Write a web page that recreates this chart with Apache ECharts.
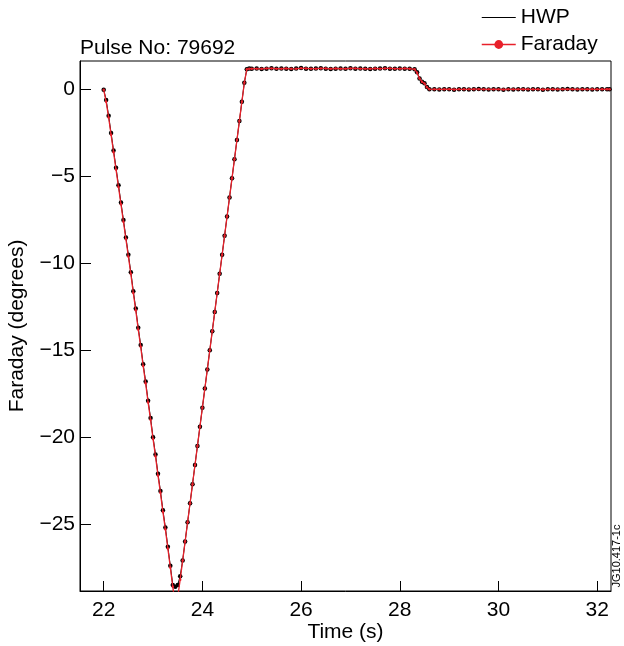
<!DOCTYPE html>
<html>
<head>
<meta charset="utf-8">
<script src="https://cdn.jsdelivr.net/npm/echarts@6/dist/echarts.min.js"></script>
<style>
html,body{margin:0;padding:0;background:#fff;}
#chart{width:624px;height:646px;}
</style>
</head>
<body>
<div id="chart"></div>
<script>
// Shared time samples (s)
var time = [
  22.00,22.05,22.10,22.15,22.20,22.25,22.30,22.35,22.40,22.45,
  22.50,22.55,22.60,22.65,22.70,22.75,22.80,22.85,22.90,22.95,
  23.00,23.05,23.10,23.15,23.20,23.25,23.30,23.35,23.40,23.45,
  23.50,23.55,23.60,23.65,23.70,23.75,23.80,23.85,23.90,23.95,
  24.00,24.05,24.10,24.15,24.20,24.25,24.30,24.35,24.40,24.45,
  24.50,24.55,24.60,24.65,24.70,24.75,24.80,24.85,24.90,24.95,
  25.00,
  25.1,25.2,25.3,25.4,25.5,25.6,25.7,25.8,25.9,26.0,
  26.1,26.2,26.3,26.4,26.5,26.6,26.7,26.8,26.9,27.0,
  27.1,27.2,27.3,27.4,27.5,27.6,27.7,27.8,27.9,28.0,
  28.1,28.2,28.3,
  28.35,28.40,28.45,28.50,28.55,28.60,
  28.7,28.8,28.9,29.0,29.1,29.2,29.3,29.4,29.5,29.6,
  29.7,29.8,29.9,30.0,30.1,30.2,30.3,30.4,30.5,30.6,
  30.7,30.8,30.9,31.0,31.1,31.2,31.3,31.4,31.5,31.6,
  31.7,31.8,31.9,32.0,32.1,32.2,32.25
];
// HWP (degrees)
var hwp = [
  0.0,-0.6,-1.5,-2.5,-3.5,-4.5,-5.5,-6.5,-7.5,-8.5,
  -9.5,-10.5,-11.6,-12.6,-13.7,-14.7,-15.8,-16.8,-17.9,-18.9,
  -20.0,-21.0,-22.1,-23.1,-24.2,-25.2,-26.3,-27.4,-28.5,-28.6,
  -28.5,-28.0,-27.1,-26.0,-24.9,-23.8,-22.7,-21.6,-20.5,-19.4,
  -18.3,-17.2,-16.1,-15.0,-13.9,-12.8,-11.7,-10.6,-9.5,-8.4,
  -7.3,-6.2,-5.1,-4.0,-2.9,-1.8,-0.7,0.4,1.18,1.22,
  1.20,
  1.22,1.19,1.21,1.23,1.20,1.22,1.21,1.19,1.22,1.24,
  1.21,1.20,1.22,1.23,1.21,1.19,1.21,1.22,1.20,1.23,
  1.21,1.22,1.20,1.19,1.21,1.22,1.23,1.21,1.20,1.22,
  1.21,1.20,1.18,
  1.00,0.65,0.45,0.37,0.15,0.03,
  0.02,0.01,0.03,0.02,0.00,0.02,0.03,0.01,0.02,0.04,
  0.02,0.01,0.03,0.02,0.00,0.02,0.01,0.03,0.02,0.01,
  0.03,0.02,0.00,0.02,0.03,0.01,0.02,0.04,0.02,0.01,
  0.03,0.02,0.01,0.03,0.02,0.03,0.02
];
// Faraday (degrees)
var faraday = [
  0.0,-0.7,-1.6,-2.6,-3.6,-4.6,-5.6,-6.6,-7.6,-8.6,
  -9.6,-10.6,-11.7,-12.7,-13.8,-14.8,-15.9,-16.9,-18.0,-19.0,
  -20.1,-21.1,-22.2,-23.2,-24.3,-25.3,-26.4,-27.5,-28.6,-29.7,
  -29.2,-28.2,-27.1,-26.0,-24.9,-23.8,-22.7,-21.6,-20.5,-19.4,
  -18.3,-17.2,-16.1,-15.0,-13.9,-12.8,-11.7,-10.6,-9.5,-8.4,
  -7.3,-6.2,-5.1,-4.0,-2.9,-1.8,-0.7,0.4,1.17,1.21,
  1.21,
  1.21,1.20,1.22,1.22,1.21,1.21,1.22,1.20,1.21,1.23,
  1.22,1.21,1.21,1.22,1.22,1.20,1.22,1.21,1.21,1.22,
  1.22,1.21,1.21,1.20,1.22,1.21,1.22,1.22,1.21,1.21,
  1.22,1.21,1.17,
  0.98,0.64,0.46,0.36,0.14,0.03,
  0.02,0.02,0.02,0.03,0.01,0.02,0.02,0.02,0.03,0.03,
  0.02,0.02,0.02,0.02,0.01,0.02,0.02,0.02,0.03,0.02,
  0.02,0.02,0.01,0.02,0.02,0.02,0.02,0.03,0.02,0.02,
  0.02,0.02,0.02,0.02,0.02,0.03,0.02
];
var xTicks = [22, 24, 26, 28, 30, 32];
var yTicks = [0, -5, -10, -15, -20, -25];

function pairs(t, v) { return t.map(function (x, i) { return [x, v[i]]; }); }

var FONT = '"Liberation Sans", Arial, Helvetica, sans-serif';
var chart = echarts.init(document.getElementById('chart'), null, {renderer: 'canvas'});
chart.setOption({
  animation: false,
  backgroundColor: '#fff',
  textStyle: {fontFamily: FONT, color: '#000'},
  title: {
    text: 'Pulse No: 79692',
    left: 75, top: 33,
    textStyle: {fontFamily: FONT, fontSize: 21, fontWeight: 'normal', color: '#000'}
  },
  legend: {
    orient: 'vertical',
    left: 476, top: 2,
    itemWidth: 34, itemHeight: 11, itemGap: 6,
    textStyle: {fontFamily: FONT, fontSize: 21, color: '#000'},
    data: [
      {name: 'HWP', itemStyle: {opacity: 0}, lineStyle: {width: 1}},
      {name: 'Faraday', lineStyle: {width: 1.5}}
    ]
  },
  grid: {
    left: 80, right: 13, top: 61, bottom: 55,
    outerBoundsMode: 'none',
    containLabel: false,
    show: true, borderColor: '#000', borderWidth: 1
  },
  xAxis: {
    type: 'value',
    min: 21.52, max: 32.28,
    name: 'Time (s)', nameLocation: 'middle', nameGap: 31,
    nameMoveOverlap: false,
    nameTextStyle: {fontFamily: FONT, fontSize: 21, color: '#000', verticalAlign: 'top'},
    axisLine: {show: true, onZero: false, lineStyle: {color: '#000', width: 1}},
    axisTick: {show: true, inside: true, length: 10, customValues: xTicks, lineStyle: {color: '#000', width: 1}},
    axisLabel: {customValues: xTicks, fontFamily: FONT, fontSize: 21, color: '#000', margin: 9},
    splitLine: {show: false}
  },
  yAxis: {
    type: 'value',
    min: -28.85, max: 1.65,
    name: 'Faraday (degrees)', nameLocation: 'middle', nameGap: 52,
    nameTextStyle: {fontFamily: FONT, fontSize: 21, color: '#000'},
    axisLine: {show: true, onZero: false, lineStyle: {color: '#000', width: 1}},
    axisTick: {show: true, inside: true, length: 11, customValues: yTicks, lineStyle: {color: '#000', width: 1}},
    axisLabel: {
      customValues: yTicks, fontFamily: FONT, fontSize: 21, color: '#000', margin: 5,
      formatter: function (v) { return v < 0 ? '\u2212' + Math.abs(v) : String(v); }
    },
    splitLine: {show: false}
  },
  series: [
    {
      name: 'HWP', type: 'line',
      data: pairs(time, hwp),
      symbol: 'circle', symbolSize: 4.5, showSymbol: true,
      itemStyle: {color: '#000'},
      lineStyle: {color: '#000', width: 1},
      z: 2
    },
    {
      name: 'Faraday', type: 'line',
      data: pairs(time, faraday),
      symbol: 'circle', symbolSize: 2.5, showSymbol: true,
      itemStyle: {color: '#e8202a'},
      lineStyle: {color: '#e8202a', width: 1.3},
      z: 3
    }
  ],
  graphic: [{
    type: 'text',
    x: 617, y: 556,
    rotation: Math.PI / 2,
    style: {
      text: 'JG10.417-1c',
      fontFamily: FONT, fontSize: 11, fill: '#000',
      align: 'center', verticalAlign: 'middle'
    }
  }]
});
</script>
</body>
</html>
